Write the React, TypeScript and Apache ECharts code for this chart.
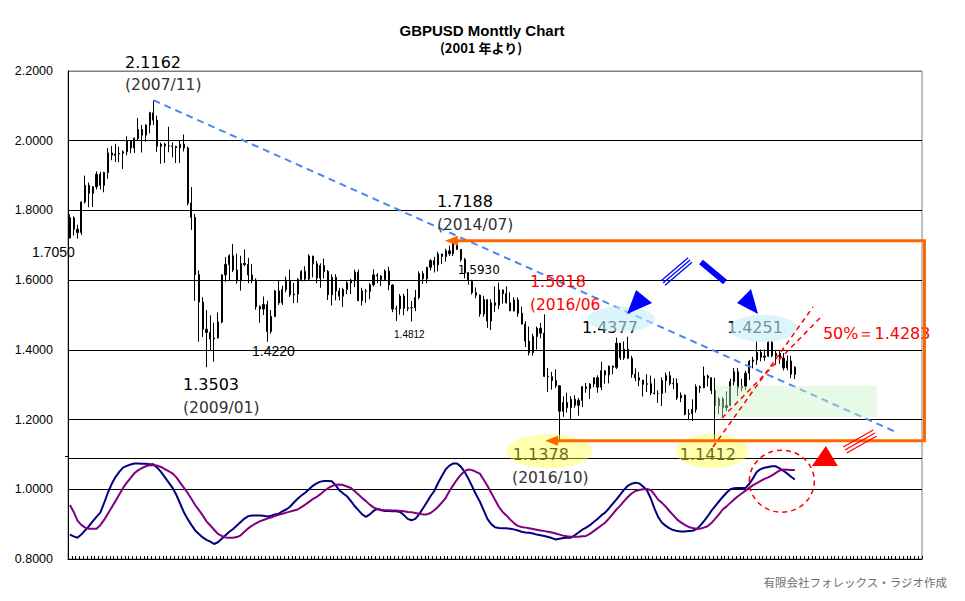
import React, { useEffect, useRef } from "react";
import * as echarts from "echarts";

// ---------- data ----------
const FIRST_YEAR = 2006;
const SLOT_COUNT = 225; // monthly slots on the category axis (2006/01 ...)

const OPEN = [
  1.7210,1.7790,1.7460,1.7370,1.8240,1.8720,1.8490,1.8680,1.9040,1.8720,1.9090,1.9650,
  1.9580,1.9620,1.9640,1.9680,2.0000,1.9790,2.0070,2.0320,2.0160,2.0450,2.0800,2.0590,
  1.9840,1.9900,1.9850,1.9850,1.9840,1.9800,1.9900,1.9790,1.8210,1.7800,1.6160,1.5370,
  1.4590,1.4500,1.4310,1.4340,1.4800,1.6150,1.6450,1.6700,1.6290,1.5980,1.6480,1.6450,
  1.6150,1.6000,1.5240,1.5170,1.5300,1.4530,1.4960,1.5690,1.5350,1.5730,1.6000,1.5580,
  1.5600,1.6020,1.6250,1.6030,1.6690,1.6470,1.6060,1.6420,1.6250,1.5580,1.6080,1.5690,
  1.5540,1.5730,1.5920,1.6000,1.6230,1.5410,1.5690,1.5680,1.5870,1.6150,1.6120,1.6020,
  1.6260,1.5860,1.5170,1.5180,1.5540,1.5190,1.5210,1.5210,1.5500,1.6190,1.6040,1.6370,
  1.6560,1.6440,1.6750,1.6680,1.6840,1.6760,1.7100,1.6880,1.6590,1.6210,1.5990,1.5640,
  1.5570,1.5030,1.5440,1.4830,1.5350,1.5280,1.5720,1.5610,1.5350,1.5120,1.5430,1.5050,
  1.4740,1.4250,1.3920,1.4380,1.4620,1.4480,1.3240,1.3230,1.3120,1.2970,1.2240,1.2490,
  1.2340,1.2580,1.2410,1.2550,1.2940,1.2890,1.3020,1.3200,1.2930,1.3400,1.3280,1.3530,
  1.3500,1.4190,1.3770,1.4020,1.3760,1.3300,1.3200,1.3130,1.3010,1.3030,1.2760,1.2750,
  1.2750,1.3120,1.3260,1.3030,1.3040,1.2620,1.2700,1.2150,1.2170,1.2290,1.2940,1.2910,
  1.3250,1.3200,1.2830,1.2400,1.2590,1.2340,1.2400,1.3090,1.3370,1.2910,1.2950,1.3330,
  1.3670,1.3710,1.3930,1.3790,1.3820,1.4220,1.3830,1.3900,1.3760,1.3480,1.3680,1.3300,
];
const HIGH = [
  1.7890,1.7830,1.7590,1.8260,1.9000,1.8800,1.8700,1.9120,1.9110,1.9110,1.9790,1.9850,
  1.9910,1.9830,1.9720,2.0130,2.0020,2.0090,2.0650,2.0450,2.0470,2.0830,2.1162,2.0720,
  1.9950,1.9940,2.0400,1.9950,1.9850,2.0000,2.0180,1.9830,1.8670,1.7900,1.6280,1.5510,
  1.5140,1.4990,1.4780,1.5070,1.6170,1.6660,1.6740,1.7040,1.6760,1.6700,1.6880,1.6640,
  1.6460,1.6050,1.5280,1.5530,1.5410,1.5140,1.5720,1.5980,1.5840,1.6100,1.6300,1.5920,
  1.6060,1.6290,1.6400,1.6740,1.6700,1.6550,1.6480,1.6620,1.6290,1.6170,1.6170,1.5780,
  1.5780,1.5970,1.6040,1.6300,1.6300,1.5780,1.5750,1.5910,1.6310,1.6200,1.6140,1.6310,
  1.6380,1.5880,1.5270,1.5600,1.5610,1.5750,1.5400,1.5720,1.6250,1.6260,1.6380,1.6600,
  1.6670,1.6820,1.6760,1.6900,1.6990,1.7110,1.7188,1.6890,1.6640,1.6230,1.6010,1.5790,
  1.5590,1.5550,1.5450,1.5450,1.5820,1.5930,1.5730,1.5820,1.5650,1.5510,1.5500,1.5240,
  1.4820,1.4670,1.4460,1.4670,1.4770,1.5018,1.3480,1.3370,1.3440,1.2990,1.2670,1.2770,
  1.2670,1.2700,1.2620,1.2960,1.3050,1.3040,1.3210,1.3270,1.3660,1.3420,1.3550,1.3550,
  1.4350,1.4200,1.4240,1.4377,1.3830,1.3470,1.3360,1.3140,1.3300,1.3260,1.3180,1.2840,
  1.3210,1.3350,1.3380,1.3190,1.3180,1.2780,1.2720,1.2300,1.2580,1.3010,1.2980,1.3520,
  1.3290,1.3210,1.3200,1.2650,1.2650,1.2810,1.3170,1.3480,1.3480,1.3170,1.3400,1.3710,
  1.3800,1.4240,1.4010,1.4010,1.4250,1.4251,1.3980,1.3960,1.3910,1.3840,1.3830,1.3530,
];
const LOW = [
  1.7200,1.7280,1.7190,1.7300,1.8200,1.8090,1.8100,1.8600,1.8600,1.8520,1.8910,1.9440,
  1.9390,1.9380,1.9190,1.9580,1.9640,1.9650,2.0000,1.9660,1.9970,2.0210,2.0450,1.9680,
  1.9340,1.9360,1.9670,1.9520,1.9360,1.9360,1.9690,1.8140,1.7440,1.5410,1.4230,1.4370,
  1.3503,1.3990,1.3660,1.4330,1.4760,1.5950,1.5990,1.6230,1.5900,1.5700,1.6400,1.5910,
  1.5910,1.5150,1.4780,1.5000,1.4230,1.4460,1.4950,1.5290,1.5290,1.5650,1.5520,1.5340,
  1.5350,1.5970,1.5970,1.6000,1.6080,1.5910,1.5780,1.6050,1.5430,1.5270,1.5420,1.5420,
  1.5230,1.5600,1.5600,1.5800,1.5400,1.5270,1.5350,1.5450,1.5820,1.5910,1.5830,1.6000,
  1.5710,1.5080,1.4830,1.5010,1.4990,1.5110,1.4812,1.5110,1.5450,1.5890,1.5910,1.6280,
  1.6220,1.6250,1.6460,1.6530,1.6690,1.6690,1.6870,1.6530,1.6050,1.5870,1.5590,1.5480,
  1.4950,1.4950,1.4630,1.4570,1.5090,1.5170,1.5330,1.5330,1.5110,1.5100,1.4950,1.4730,
  1.4080,1.3840,1.3830,1.4010,1.4330,1.3220,1.2790,1.2860,1.2910,1.1378,1.2080,1.2200,
  1.1990,1.2340,1.2110,1.2360,1.2770,1.2590,1.2930,1.2770,1.2850,1.3030,1.3040,1.3300,
  1.3450,1.3710,1.3710,1.3740,1.3200,1.3100,1.2960,1.2660,1.2790,1.2700,1.2720,1.2480,
  1.2390,1.2770,1.2980,1.2870,1.2560,1.2500,1.2120,1.2010,1.1960,1.2200,1.2770,1.2900,
  1.2950,1.2730,1.1412,1.2160,1.2080,1.2250,1.2390,1.2980,1.2680,1.2810,1.2850,1.3140,
  1.3470,1.3570,1.3670,1.3690,1.3800,1.3790,1.3570,1.3600,1.3410,1.3410,1.3190,1.3160,
];
const CLOSE = [
  1.7790,1.7460,1.7370,1.8240,1.8720,1.8490,1.8680,1.9040,1.8720,1.9090,1.9650,1.9580,
  1.9620,1.9640,1.9680,2.0000,1.9790,2.0070,2.0320,2.0160,2.0450,2.0800,2.0590,1.9840,
  1.9900,1.9850,1.9850,1.9840,1.9800,1.9900,1.9790,1.8210,1.7800,1.6160,1.5370,1.4590,
  1.4500,1.4310,1.4340,1.4800,1.6150,1.6450,1.6700,1.6290,1.5980,1.6480,1.6450,1.6150,
  1.6000,1.5240,1.5170,1.5300,1.4530,1.4960,1.5690,1.5350,1.5730,1.6000,1.5580,1.5600,
  1.6020,1.6250,1.6030,1.6690,1.6470,1.6060,1.6420,1.6250,1.5580,1.6080,1.5690,1.5540,
  1.5730,1.5920,1.6000,1.6230,1.5410,1.5690,1.5680,1.5870,1.6150,1.6120,1.6020,1.6260,
  1.5860,1.5170,1.5180,1.5540,1.5190,1.5210,1.5210,1.5500,1.6190,1.6040,1.6370,1.6560,
  1.6440,1.6750,1.6680,1.6840,1.6760,1.7100,1.6880,1.6590,1.6210,1.5990,1.5640,1.5570,
  1.5030,1.5440,1.4830,1.5350,1.5280,1.5720,1.5610,1.5350,1.5120,1.5430,1.5050,1.4740,
  1.4250,1.3920,1.4380,1.4620,1.4480,1.3240,1.3230,1.3120,1.2970,1.2240,1.2490,1.2340,
  1.2580,1.2410,1.2550,1.2940,1.2890,1.3020,1.3200,1.2930,1.3400,1.3280,1.3530,1.3500,
  1.4190,1.3770,1.4020,1.3760,1.3300,1.3200,1.3130,1.3010,1.3030,1.2760,1.2750,1.2750,
  1.3120,1.3260,1.3030,1.3040,1.2620,1.2700,1.2150,1.2170,1.2290,1.2940,1.2910,1.3250,
  1.3200,1.2830,1.2400,1.2590,1.2340,1.2400,1.3090,1.3370,1.2910,1.2950,1.3330,1.3670,
  1.3710,1.3930,1.3790,1.3820,1.4220,1.3830,1.3900,1.3760,1.3480,1.3680,1.3300,1.3500,
];

// oscillator (plotted in the lower panel on the same scale)
const OSC_FAST = [
  0.870,0.865,0.861,0.870,0.882,0.894,0.908,0.921,0.933,0.960,0.990,1.015,
  1.035,1.050,1.062,1.067,1.071,1.074,1.074,1.073,1.073,1.072,1.072,1.062,
  1.050,1.035,1.020,1.005,0.985,0.960,0.935,0.915,0.898,0.882,0.872,0.862,
  0.855,0.850,0.843,0.848,0.858,0.868,0.878,0.886,0.896,0.906,0.916,0.923,
  0.925,0.925,0.925,0.924,0.922,0.924,0.928,0.930,0.937,0.942,0.950,0.962,
  0.973,0.982,0.990,1.000,1.010,1.017,1.022,1.024,1.024,1.023,1.012,0.997,
  0.988,0.980,0.967,0.952,0.940,0.928,0.921,0.928,0.938,0.944,0.940,0.938,
  0.938,0.937,0.937,0.935,0.926,0.915,0.911,0.915,0.928,0.945,0.962,0.980,
  0.995,1.018,1.038,1.057,1.068,1.074,1.074,1.065,1.050,1.030,1.008,0.985,
  0.965,0.940,0.915,0.900,0.891,0.889,0.888,0.888,0.887,0.885,0.882,0.878,
  0.876,0.875,0.873,0.870,0.868,0.866,0.863,0.860,0.856,0.858,0.860,0.861,
  0.861,0.868,0.876,0.884,0.890,0.897,0.906,0.915,0.925,0.933,0.945,0.958,
  0.971,0.985,0.999,1.010,1.016,1.019,1.017,1.008,0.998,0.975,0.945,0.920,
  0.904,0.895,0.888,0.883,0.880,0.879,0.879,0.880,0.881,0.885,0.895,0.908,
  0.922,0.938,0.952,0.965,0.978,0.990,1.000,1.003,1.004,1.004,1.004,1.015,
  1.032,1.050,1.058,1.062,1.064,1.066,1.066,1.060,1.053,1.045,1.036,1.028,
];
const OSC_SLOW = [
  0.955,0.935,0.910,0.898,0.890,0.887,0.887,0.887,0.897,0.912,0.930,0.948,
  0.966,0.985,1.004,1.019,1.033,1.046,1.055,1.061,1.066,1.069,1.069,1.068,
  1.064,1.058,1.052,1.046,1.035,1.020,1.005,0.990,0.973,0.955,0.940,0.925,
  0.908,0.896,0.884,0.872,0.866,0.862,0.861,0.861,0.863,0.868,0.878,0.888,
  0.896,0.902,0.908,0.912,0.916,0.919,0.923,0.927,0.930,0.933,0.936,0.939,
  0.942,0.949,0.956,0.964,0.972,0.978,0.986,0.995,1.003,1.009,1.013,1.014,
  1.012,1.008,1.004,0.995,0.985,0.975,0.966,0.956,0.948,0.943,0.941,0.940,
  0.940,0.939,0.939,0.938,0.937,0.935,0.934,0.932,0.930,0.928,0.928,0.932,
  0.940,0.950,0.962,0.975,0.995,1.012,1.028,1.042,1.052,1.057,1.055,1.050,
  1.045,1.028,1.010,0.990,0.970,0.950,0.935,0.925,0.913,0.903,0.895,0.892,
  0.890,0.888,0.886,0.884,0.882,0.880,0.878,0.876,0.873,0.870,0.867,0.865,
  0.864,0.864,0.864,0.865,0.866,0.872,0.880,0.888,0.896,0.904,0.916,0.929,
  0.942,0.953,0.966,0.978,0.988,0.995,0.998,1.000,1.001,0.998,0.985,0.970,
  0.961,0.950,0.937,0.925,0.913,0.905,0.898,0.892,0.889,0.887,0.887,0.890,
  0.894,0.903,0.915,0.928,0.942,0.951,0.961,0.971,0.980,0.988,0.996,1.004,
  1.012,1.018,1.024,1.030,1.034,1.040,1.047,1.054,1.057,1.056,1.055,1.055,
];

const Y_MIN = 0.8;
const Y_MAX = 2.2;
const Y_STEP = 0.2;
const PANEL_SPLIT = 1.094;

const TITLE = "GBPUSD Monttly Chart";
const SUBTITLE = "(2001 年より)";
const CREDIT = "有限会社フォレックス・ラジオ作成";

const CATEGORIES: string[] = [];
for (let k = 0; k < SLOT_COUNT; k++) {
  const y = FIRST_YEAR + Math.floor(k / 12);
  const m = (k % 12) + 1;
  CATEGORIES.push(`${y}/${m < 10 ? "0" + m : m}`);
}

// annotation texts anchored in data space (category index, price)
const NOTES = [
  { text: "2.1162", i: 14.52, v: 2.2258, size: 16, color: "#000", font: "DejaVu Sans" },
  { text: "(2007/11)", i: 14.52, v: 2.1598, size: 15.5, color: "#333", font: "DejaVu Sans" },
  { text: "1.7188", i: 96.7, v: 1.8256, size: 16, color: "#000", font: "DejaVu Sans" },
  { text: "(2014/07)", i: 96.7, v: 1.7596, size: 15.5, color: "#333", font: "DejaVu Sans" },
  { text: "1.3503", i: 29.8, v: 1.2992, size: 16, color: "#000", font: "DejaVu Sans" },
  { text: "(2009/01)", i: 29.8, v: 1.2318, size: 15.5, color: "#333", font: "DejaVu Sans" },
  { text: "1.5018", i: 121.2, v: 1.5961, size: 16, color: "#ff0000", font: "DejaVu Sans" },
  { text: "(2016/06", i: 121.2, v: 1.5287, size: 15.5, color: "#ff0000", font: "DejaVu Sans" },
  { text: "1.4377", i: 134.9, v: 1.4645, size: 16, color: "#000", font: "DejaVu Sans" },
  { text: "1.4251", i: 173.1, v: 1.4645, size: 16, color: "#000", font: "DejaVu Sans" },
  { text: "50%＝1.4283", i: 198.4, v: 1.4455, size: 16, color: "#ff0000", font: "DejaVu Sans" },
  { text: "1.1378", i: 116.7, v: 1.0998, size: 16, color: "#000", font: "DejaVu Sans" },
  { text: "(2016/10)", i: 116.5, v: 1.0338, size: 15.5, color: "#333", font: "DejaVu Sans" },
  { text: "1.1412", i: 160.7, v: 1.0998, size: 16, color: "#000", font: "DejaVu Sans" },
  { text: "1.5930", i: 102.2, v: 1.6291, size: 12, color: "#000", font: "DejaVu Sans" },
  { text: "1.4812", i: 85.4, v: 1.444, size: 10, color: "#000", font: "Liberation Sans" },
  { text: "1.4220", i: 47.98, v: 1.3953, size: 14, color: "#000", font: "Liberation Sans" },
  { text: "1.7050", i: -9.99, v: 1.6807, size: 14, color: "#000", font: "Liberation Sans" },
];

function buildOption(): any {
  const lineColors: string[] = [];
  const nTicks = Math.round((Y_MAX - Y_MIN) / Y_STEP) + 1;
  for (let k = 0; k < nTicks; k++) lineColors.push(k === nTicks - 1 ? "#808080" : "#000");
  return {
    animation: false,
    backgroundColor: "#fff",
    grid: { left: 68, right: 43, top: 71, bottom: 42, show: true, borderColor: "#808080", borderWidth: 1 },
    xAxis: {
      type: "category",
      data: CATEGORIES,
      boundaryGap: true,
      axisLine: { show: true, lineStyle: { color: "#000", width: 1 } },
      axisTick: { show: true, interval: 0, inside: true, length: 3, lineStyle: { color: "#000" } },
      axisLabel: { show: false },
      splitLine: { show: false },
    },
    yAxis: {
      type: "value",
      min: Y_MIN, max: Y_MAX, interval: Y_STEP,
      axisLine: { show: true, lineStyle: { color: "#000" } },
      axisTick: { show: false },
      axisLabel: {
        formatter: (v: number) => v.toFixed(4),
        color: "#000", fontFamily: "Liberation Sans", fontSize: 12.5, margin: 15,
      },
      splitLine: { show: true, lineStyle: { color: lineColors, width: 1 } },
    },
    series: [
      {
        type: "candlestick",
        data: OPEN.map((o, k) => [o, CLOSE[k], LOW[k], HIGH[k]]),
        barWidth: 1.6,
        itemStyle: { color: "#000", color0: "#000", borderColor: "#000", borderColor0: "#000", borderWidth: 1 },
        markLine: {
          silent: true, symbol: ["none", "none"], label: { show: false },
          lineStyle: { color: "#000", type: "solid", width: 1 },
          data: [{ yAxis: PANEL_SPLIT }],
        },
        z: 3,
      },
      { type: "line", data: OSC_FAST, symbol: "none", lineStyle: { color: "#000080", width: 2 }, z: 2 },
      { type: "line", data: OSC_SLOW, symbol: "none", lineStyle: { color: "#800080", width: 2 }, z: 2 },
    ],
  };
}

function buildGraphics(chart: any): any[] {
  const P = (i: number, v: number): number[] => {
    const a = chart.convertToPixel({ gridIndex: 0 }, [0, v]);
    const b = chart.convertToPixel({ gridIndex: 0 }, [1, v]);
    return [a[0] + (b[0] - a[0]) * i, a[1]];
  };
  const els: any[] = [];
  // titles
  els.push({
    type: "text", x: 482, y: 30, z: 12,
    style: { text: TITLE, fill: "#000", fontSize: 15, fontWeight: "bold", fontFamily: "Liberation Sans", align: "center", verticalAlign: "middle" },
  });
  els.push({
    type: "text", x: 481, y: 47, z: 12,
    style: { text: SUBTITLE, fill: "#000", fontSize: 13, fontWeight: "bold", fontFamily: "Noto Sans CJK JP", align: "center", verticalAlign: "middle" },
  });
  for (const n of NOTES) {
    const [x, y] = P(n.i, n.v);
    els.push({
      type: "text", x, y, z: 10,
      style: { text: n.text, fill: n.color, fontSize: n.size, fontFamily: n.font, align: "left", verticalAlign: "middle" },
    });
  }
  // blue dashed trend line from 2007/11 high
  const t1 = P(22, 2.1162);
  const t2 = P(218.2, 1.1615);
  els.push({ type: "line", z: 9, shape: { x1: t1[0], y1: t1[1], x2: t2[0], y2: t2[1] }, style: { stroke: "#4a86f5", lineWidth: 2, lineDash: [7, 5] } });

  // semi-transparent highlight ellipses
  const c1 = P(145.2, 1.4885);
  els.push({ type: "ellipse", z: 11, shape: { cx: c1[0], cy: c1[1], rx: 34, ry: 12.5 }, style: { fill: "rgba(195,238,246,0.6)" } });
  const c2 = P(182.7, 1.4613);
  els.push({ type: "ellipse", z: 11, shape: { cx: c2[0], cy: c2[1], rx: 34, ry: 13.5 }, style: { fill: "rgba(195,238,246,0.6)" } });
  const y1 = P(126.3, 1.1093);
  els.push({ type: "ellipse", z: 11, shape: { cx: y1[0], cy: y1[1], rx: 43, ry: 17 }, style: { fill: "rgba(255,255,60,0.42)" } });
  const y2 = P(169.2, 1.1093);
  els.push({ type: "ellipse", z: 11, shape: { cx: y2[0], cy: y2[1], rx: 36.5, ry: 17 }, style: { fill: "rgba(255,255,60,0.42)" } });

  // green zone
  const g1 = P(169.96, 1.2963);
  const g2 = P(212.6, 1.2074);
  els.push({ type: "rect", z: 11, shape: { x: g1[0], y: g1[1], width: g2[0] - g1[0], height: g2[1] - g1[1] }, style: { fill: "rgba(200,245,200,0.45)" } });

  // orange range bracket with arrows
  const oTopL = P(98.8, 1.713);
  const oTopR = P(225.15, 1.713);
  const oBotR = P(225.15, 1.1394);
  const oBotL = P(125.2, 1.1394);
  els.push({
    type: "polyline", z: 12,
    shape: { points: [[oTopL[0] + 8, oTopL[1]], oTopR, oBotR, [oBotL[0] + 8, oBotL[1]]] },
    style: { stroke: "#ff6600", lineWidth: 3, fill: null },
  });
  for (const tip of [oTopL, oBotL]) {
    els.push({ type: "polygon", z: 12, shape: { points: [[tip[0], tip[1]], [tip[0] + 13, tip[1] - 5], [tip[0] + 13, tip[1] + 5]] }, style: { fill: "#ff6600" } });
  }

  // red dashed channel lines
  const r1a = P(169.43, 1.1213), r1b = P(195.78, 1.5229);
  const r2a = P(171.8, 1.2045), r2b = P(198.4, 1.5);
  for (const [a, b] of [[r1a, r1b], [r2a, r2b]]) {
    els.push({ type: "line", z: 12, shape: { x1: a[0], y1: a[1], x2: b[0], y2: b[1] }, style: { stroke: "#ff0000", lineWidth: 1.5, lineDash: [5, 4] } });
  }
  // red dashed circle on oscillator
  const rc = P(187.56, 1.0232);
  els.push({ type: "ellipse", z: 12, shape: { cx: rc[0], cy: rc[1], rx: 32.5, ry: 31 }, style: { stroke: "#ff0000", lineWidth: 1.5, lineDash: [5, 4], fill: "none" } });

  // red triangle + triple strokes
  const rt = P(198.9, 1.0668);
  els.push({ type: "polygon", z: 12, shape: { points: [[rt[0] - 13, rt[1]], [rt[0] + 13, rt[1]], [rt[0] + 1, rt[1] - 20]] }, style: { fill: "#ff0000" } });
  const rs = P(204.2, 1.1127);
  for (const d of [-3.5, 0, 3.5]) {
    const ox = 0.493 * d, oy = 0.87 * d;
    els.push({ type: "line", z: 12, shape: { x1: rs[0] + ox, y1: rs[1] + oy, x2: rs[0] + 30 + ox, y2: rs[1] - 17 + oy }, style: { stroke: "#ff0000", lineWidth: 1.3 } });
  }

  // blue broken arrow 1 (points down-left)
  const b1 = P(146.8, 1.5029);
  for (const d of [-3, 0, 3]) {
    const ox = 0.648 * d, oy = 0.761 * d;
    els.push({ type: "line", z: 12, shape: { x1: b1[0] + 36 + ox, y1: b1[1] - 31 + oy, x2: b1[0] + 63 + ox, y2: b1[1] - 54 + oy }, style: { stroke: "#0000ff", lineWidth: 1.3 } });
  }
  els.push({ type: "polygon", z: 12, shape: { points: [[b1[0], b1[1]], [b1[0] + 9, b1[1] - 24], [b1[0] + 25, b1[1] - 11]] }, style: { fill: "#0000ff" } });

  // blue broken arrow 2 (points down-right)
  const b2 = P(181.3, 1.5029);
  els.push({ type: "line", z: 12, shape: { x1: b2[0] - 57, y1: b2[1] - 52, x2: b2[0] - 33, y2: b2[1] - 32 }, style: { stroke: "#0000ff", lineWidth: 6 } });
  els.push({ type: "polygon", z: 12, shape: { points: [[b2[0], b2[1]], [b2[0] - 21, b2[1] - 11], [b2[0] - 7, b2[1] - 25]] }, style: { fill: "#0000ff" } });

  // small tick at panel separator
  const sp = P(-0.5, PANEL_SPLIT);
  els.push({ type: "line", z: 12, shape: { x1: sp[0] - 3, y1: sp[1], x2: sp[0], y2: sp[1] }, style: { stroke: "#000", lineWidth: 1 } });

  // credit
  els.push({
    type: "text", x: 947, y: 582, z: 12,
    style: { text: CREDIT, fill: "#6e6e6e", fontSize: 11.5, fontFamily: "Noto Sans CJK JP", align: "right", verticalAlign: "middle" },
  });
  return els;
}

export default function App() {
  const ref = useRef<HTMLDivElement>(null);
  useEffect(() => {
    if (!ref.current) return;
    const chart = echarts.init(ref.current, null, { renderer: "svg" });
    chart.setOption(buildOption());
    chart.setOption({ graphic: buildGraphics(chart) });
    return () => chart.dispose();
  }, []);
  return <div ref={ref} style={{ position: "absolute", left: 0, top: 0, width: 965, height: 601 }} />;
}
